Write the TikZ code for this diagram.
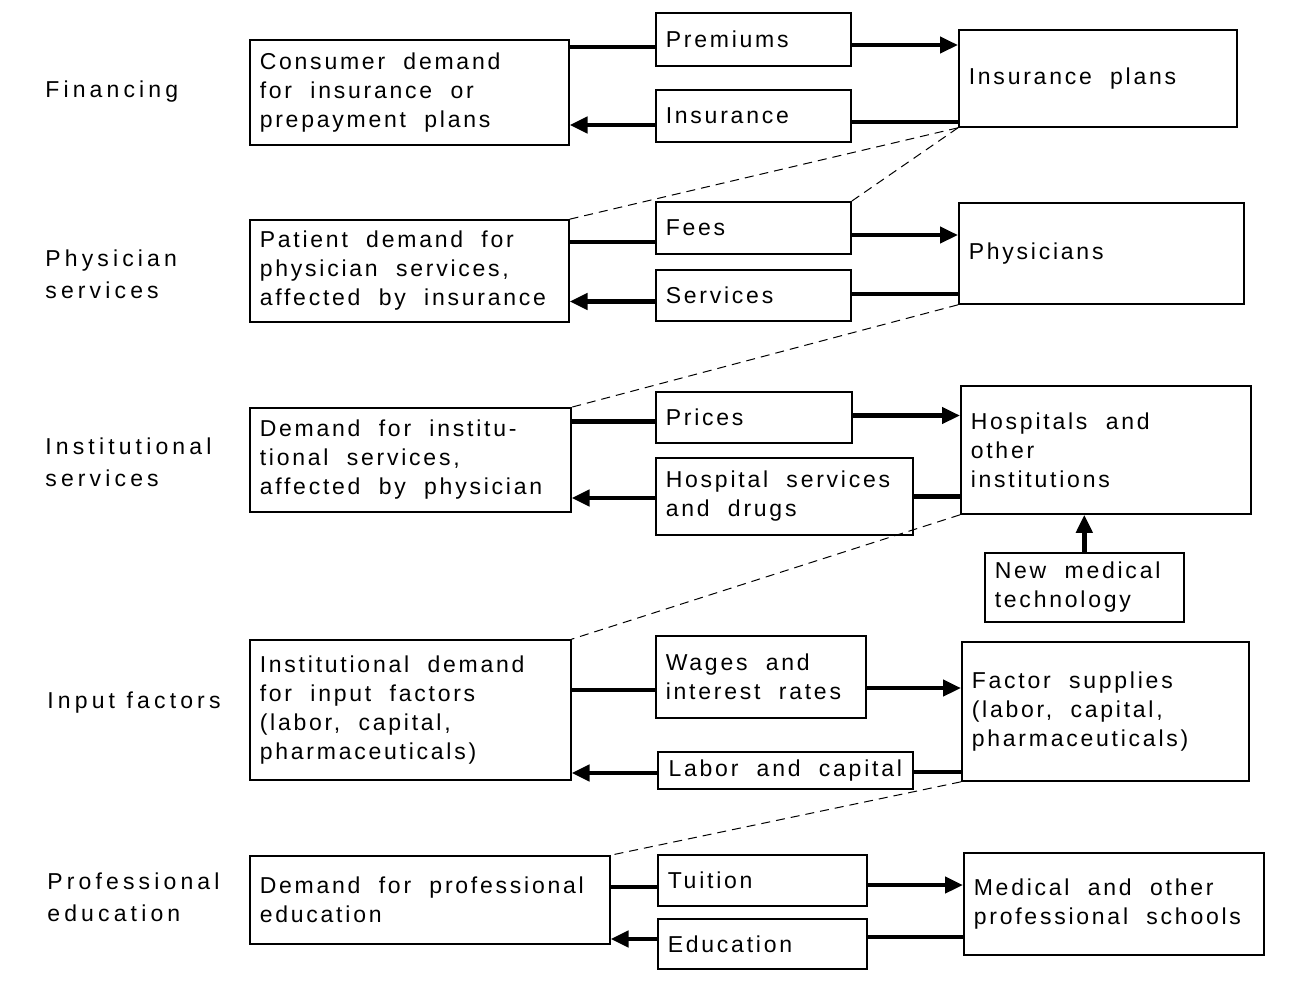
\documentclass[tikz,border=0pt]{standalone}
\usepackage{fontspec}
\setmainfont{Liberation Sans}[LetterSpace=12,WordSpace=2.0]
\newfontfamily\rowfont{Liberation Sans}[LetterSpace=18,WordSpace=1.1]
\usetikzlibrary{shapes,backgrounds,positioning,arrows.meta}

\begin{document}
\begin{tikzpicture}[x=0.5pt,y=-0.5pt,
        every node/.style={font=\fontsize{11.5pt}{14.5pt}\selectfont},
        box/.style={draw, line width=0.8pt, anchor=west, align=left, inner xsep=5pt, inner ysep=0pt,
            execute at begin node={\spaceskip=\fontdimen2\font\relax}},
        rowname/.style={anchor=west, align=left, inner sep=0pt,
            font=\rowfont\fontsize{11.5pt}{16pt}\selectfont},
        link/.style={line width=2.2pt},
        flow/.style={line width=2.2pt, -{Triangle[length=9pt,width=8pt]}},
        guide/.style={line width=0.5pt, dash pattern=on 4.5pt off 3pt}]
            \def\lx{249}
            \def\mx{655}
            \def\rx{958}

            \useasboundingbox (0,0) rectangle (1290,986);

            \node[rowname] (financing) at (45,92) {Financing};
            \node[rowname] (physician) at (45,274) {Physician\\services};
            \node[rowname] (institutional) at (45,462) {Institutional\\services};
            \node[rowname] (input) at (47,703) {Input factors};
            \node[rowname] (professional) at (47,897) {Professional\\education};

            \node[box, text width=149.5pt, minimum height=52.5pt] (cons) at (\lx,92.5) {Consumer demand\\for insurance or\\prepayment plans};
            \node[box, text width=87.5pt, minimum height=26.5pt] (prem) at (\mx,39.5) {Premiums};
            \node[box, text width=87.5pt, minimum height=26pt] (insu) at (\mx,116) {Insurance};
            \node[box, text width=129pt, minimum height=48.5pt] (plans) at (\rx,78.5) {Insurance plans};

            \node[box, text width=149.5pt, minimum height=51pt] (pat) at (\lx,271) {Patient demand for\\physician services,\\affected by insurance};
            \node[box, text width=87.5pt, minimum height=26pt] (fees) at (\mx,228) {Fees};
            \node[box, text width=87.5pt, minimum height=25.5pt] (serv) at (\mx,295.5) {Services};
            \node[box, text width=132.5pt, minimum height=50.5pt] (phys) at (\rx,253.5) {Physicians};

            \node[box, text width=150.5pt, minimum height=52pt] (dinst) at (\lx,460) {Demand for institu-\\tional services,\\affected by physician};
            \node[box, text width=88pt, minimum height=25.5pt] (prices) at (\mx,417.5) {Prices};
            \node[box, text width=118.5pt, minimum height=38.5pt] (hosp) at (\mx,496.5) {Hospital services\\and drugs};
            \node[box, text width=135pt, minimum height=64pt] (hospitals) at (960,450) {Hospitals and\\other\\institutions};
            \node[box, text width=89.5pt, minimum height=34.5pt] (tech) at (984,587.5) {New medical\\technology};

            \node[box, text width=150.5pt, minimum height=70pt] (idem) at (\lx,710) {Institutional demand\\for input factors\\(labor, capital,\\pharmaceuticals)};
            \node[box, text width=95pt, minimum height=41pt] (wages) at (\mx,677) {Wages and\\interest rates};
            \node[box, minimum width=127.5pt, minimum height=18.5pt] (labor) at (657,770.5) {Labor and capital};
            \node[box, text width=133.5pt, minimum height=69.5pt] (factor) at (961,711.5) {Factor supplies\\(labor, capital,\\pharmaceuticals)};

            \node[box, text width=170pt, minimum height=44pt] (dprof) at (\lx,900) {Demand for professional\\education};
            \node[box, text width=94.5pt, minimum height=25.5pt] (tuition) at (657,880.5) {Tuition};
            \node[box, text width=94.5pt, minimum height=25pt] (educ) at (657,944) {Education};
            \node[box, text width=140pt, minimum height=51pt] (schools) at (963,904) {Medical and other\\professional schools};

            \draw[link] ([yshift=-3.75pt]cons.east |- prem.west) -- ([yshift=-3.75pt]prem.west);
            \draw[flow] ([yshift=-2.75pt]prem.east) -- ([yshift=-2.75pt]prem.east -| plans.west);
            \draw[link] ([yshift=-3pt]plans.west |- insu.east) -- ([yshift=-3pt]insu.east);
            \draw[flow] ([yshift=-4.5pt]insu.west) -- ([yshift=-4.5pt]insu.west -| cons.east);

            \draw[link] ([yshift=-7pt]pat.east |- fees.west) -- ([yshift=-7pt]fees.west);
            \draw[flow] ([yshift=-3.5pt]fees.east) -- ([yshift=-3.5pt]fees.east -| phys.west);
            \draw[link] ([yshift=0.75pt]phys.west |- serv.east) -- ([yshift=0.75pt]serv.east);
            \draw[flow] ([yshift=-3pt]serv.west) -- ([yshift=-3pt]serv.west -| pat.east);

            \draw[link] ([yshift=-2pt]dinst.east |- prices.west) -- ([yshift=-2pt]prices.west);
            \draw[flow] ([yshift=1pt]prices.east) -- ([yshift=1pt]prices.east -| hospitals.west);
            \draw[link] (hospitals.west |- hosp.east) -- (hosp.east);
            \draw[flow] ([yshift=-0.75pt]hosp.west) -- ([yshift=-0.75pt]hosp.west -| dinst.east);
            \draw[flow] (tech.north) -- (tech.north |- hospitals.south);

            \draw[link] ([yshift=-6.5pt]idem.east |- wages.west) -- ([yshift=-6.5pt]wages.west);
            \draw[flow] ([yshift=-5.5pt]wages.east) -- ([yshift=-5.5pt]wages.east -| factor.west);
            \draw[link] ([yshift=-0.75pt]factor.west |- labor.east) -- ([yshift=-0.75pt]labor.east);
            \draw[flow] ([yshift=-1.25pt]labor.west) -- ([yshift=-1.25pt]labor.west -| idem.east);

            \draw[link] ([yshift=-3.25pt]dprof.east |- tuition.west) -- ([yshift=-3.25pt]tuition.west);
            \draw[flow] ([yshift=-2.25pt]tuition.east) -- ([yshift=-2.25pt]tuition.east -| schools.west);
            \draw[link] ([yshift=3.5pt]schools.west |- educ.east) -- ([yshift=3.5pt]educ.east);
            \draw[flow] ([yshift=2.5pt]educ.west) -- ([yshift=2.5pt]educ.west -| dprof.east);

            \draw[guide] (plans.south west) -- (pat.north east);
            \draw[guide] (plans.south west) -- (fees.north east);
            \draw[guide] (phys.south west) -- (dinst.north east);
            \draw[guide] (hospitals.south west) -- (idem.north east);
            \draw[guide] (factor.south west) -- (dprof.north east);
        \end{tikzpicture}
\end{document}
